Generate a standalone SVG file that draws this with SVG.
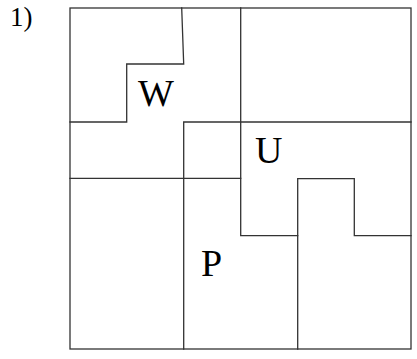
<svg xmlns="http://www.w3.org/2000/svg" width="417" height="359" viewBox="0 0 417 359">
<style>
.l{fill:none;stroke:#333;stroke-width:1.3;stroke-linecap:square}
.t{font-family:"Liberation Serif","DejaVu Serif",serif;fill:#000}
</style>
<rect width="417" height="359" fill="#fff"/>
<text class="t" x="10" y="25.5" font-size="27">1)</text>
<g id="grid" class="l">
<rect x="70" y="8" width="341" height="341"/>
<path d="M181.7,8 L183.7,64 L126.7,64 L126.7,122 L70,122"/>
<path d="M240.7,8 L240.7,235.7 L297.7,235.7"/>
<path d="M183.7,349 L183.7,122 L411,122"/>
<path d="M70,178.3 L240.7,178.3"/>
<path d="M297.7,349 L297.7,178.7 L354.3,178.7 L354.3,235.7 L411,235.7"/>
</g>
<g id="labels" class="t" font-size="38">
<text x="138" y="105.5">W</text>
<text x="255" y="163.3">U</text>
<text x="201" y="275.7">P</text>
</g>
</svg>
